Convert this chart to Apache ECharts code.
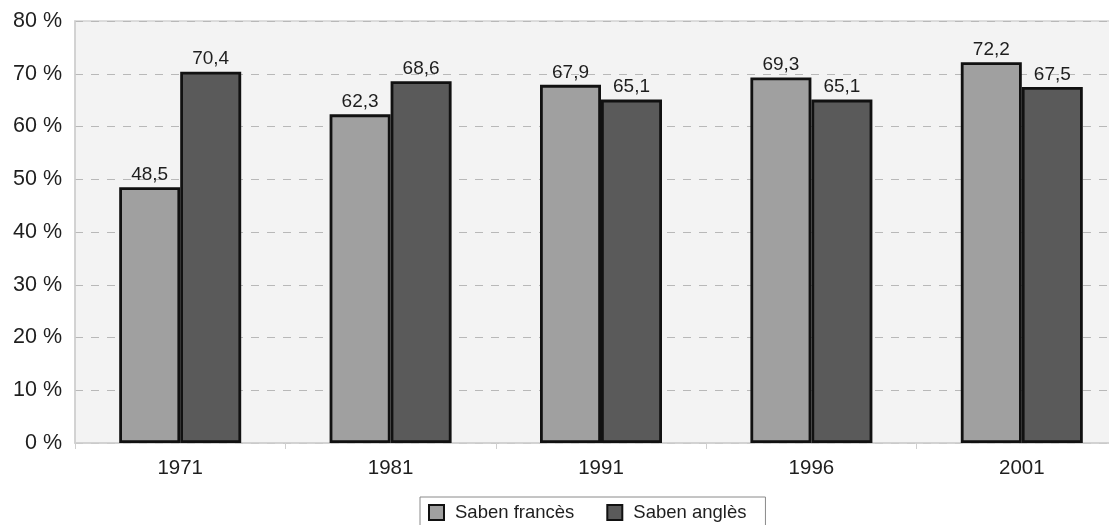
<!DOCTYPE html>
<html>
<head>
<meta charset="utf-8">
<script src="https://cdn.jsdelivr.net/npm/echarts@6/dist/echarts.min.js"></script>
<style>
  html, body { margin: 0; padding: 0; background: #ffffff; overflow: hidden; }
  #chart { width: 1130px; height: 525px; }
</style>
</head>
<body>
<div id="chart"></div>
<script>
// Census years and share of population that knows each language (%)
const years = ['1971', '1981', '1991', '1996', '2001'];
const sabenFrances = [48.5, 62.3, 67.9, 69.3, 72.2];
const sabenAngles = [70.4, 68.6, 65.1, 65.1, 67.5];
const seriesNames = ['Saben francès', 'Saben anglès'];

const fontFamily = '"Liberation Sans", Arial, Helvetica, sans-serif';
const decimalComma = v => v.toFixed(1).replace('.', ',');

const chart = echarts.init(document.getElementById('chart'), null, { renderer: 'canvas' });

function barSeries(name, data, color) {
  return {
    name: name,
    type: 'bar',
    data: data,
    barWidth: 61,
    barGap: '0%',
    itemStyle: { color: color, borderColor: '#111111', borderWidth: 2.8 },
    label: {
      show: true,
      position: 'top',
      distance: 3,
      color: '#1e1e1e',
      fontSize: 19,
      fontFamily: fontFamily,
      formatter: p => decimalComma(p.value)
    }
  };
}

chart.setOption({
  animation: false,
  backgroundColor: '#ffffff',
  grid: {
    left: 75,
    top: 21,
    width: 1052,
    bottom: 82,
    show: true,
    backgroundColor: '#f3f3f3',
    borderColor: '#d2d2d2',
    borderWidth: 1.5
  },
  legend: {
    data: seriesNames,
    left: 420,
    top: 497,
    orient: 'horizontal',
    backgroundColor: '#ffffff',
    borderColor: '#8a8a8a',
    borderWidth: 1,
    padding: [6, 19, 10, 8],
    itemWidth: 15,
    itemHeight: 15,
    itemGap: 32,
    icon: 'rect',
    textStyle: { fontSize: 18.5, color: '#1e1e1e', fontFamily: fontFamily, padding: [0, 0, 0, 6] }
  },
  xAxis: {
    type: 'category',
    data: years,
    axisLine: { show: true, lineStyle: { color: '#cfcfcf', width: 1.5 } },
    axisTick: { show: true, length: 6, lineStyle: { color: '#cfcfcf' } },
    axisLabel: { color: '#1e1e1e', fontSize: 20.5, margin: 15, fontFamily: fontFamily }
  },
  yAxis: {
    type: 'value',
    min: 0,
    max: 80,
    interval: 10,
    axisLine: { show: true, lineStyle: { color: '#cfcfcf', width: 1.5 } },
    axisTick: { show: false },
    axisLabel: {
      color: '#1e1e1e',
      fontSize: 21.5,
      margin: 13,
      fontFamily: fontFamily,
      formatter: '{value} %'
    },
    splitLine: {
      show: true,
      lineStyle: { color: '#b8b8b8', type: [8, 8], width: 1 }
    }
  },
  series: [
    barSeries(seriesNames[0], sabenFrances, '#a0a0a0'),
    barSeries(seriesNames[1], sabenAngles, '#5a5a5a')
  ]
});
</script>
</body>
</html>
